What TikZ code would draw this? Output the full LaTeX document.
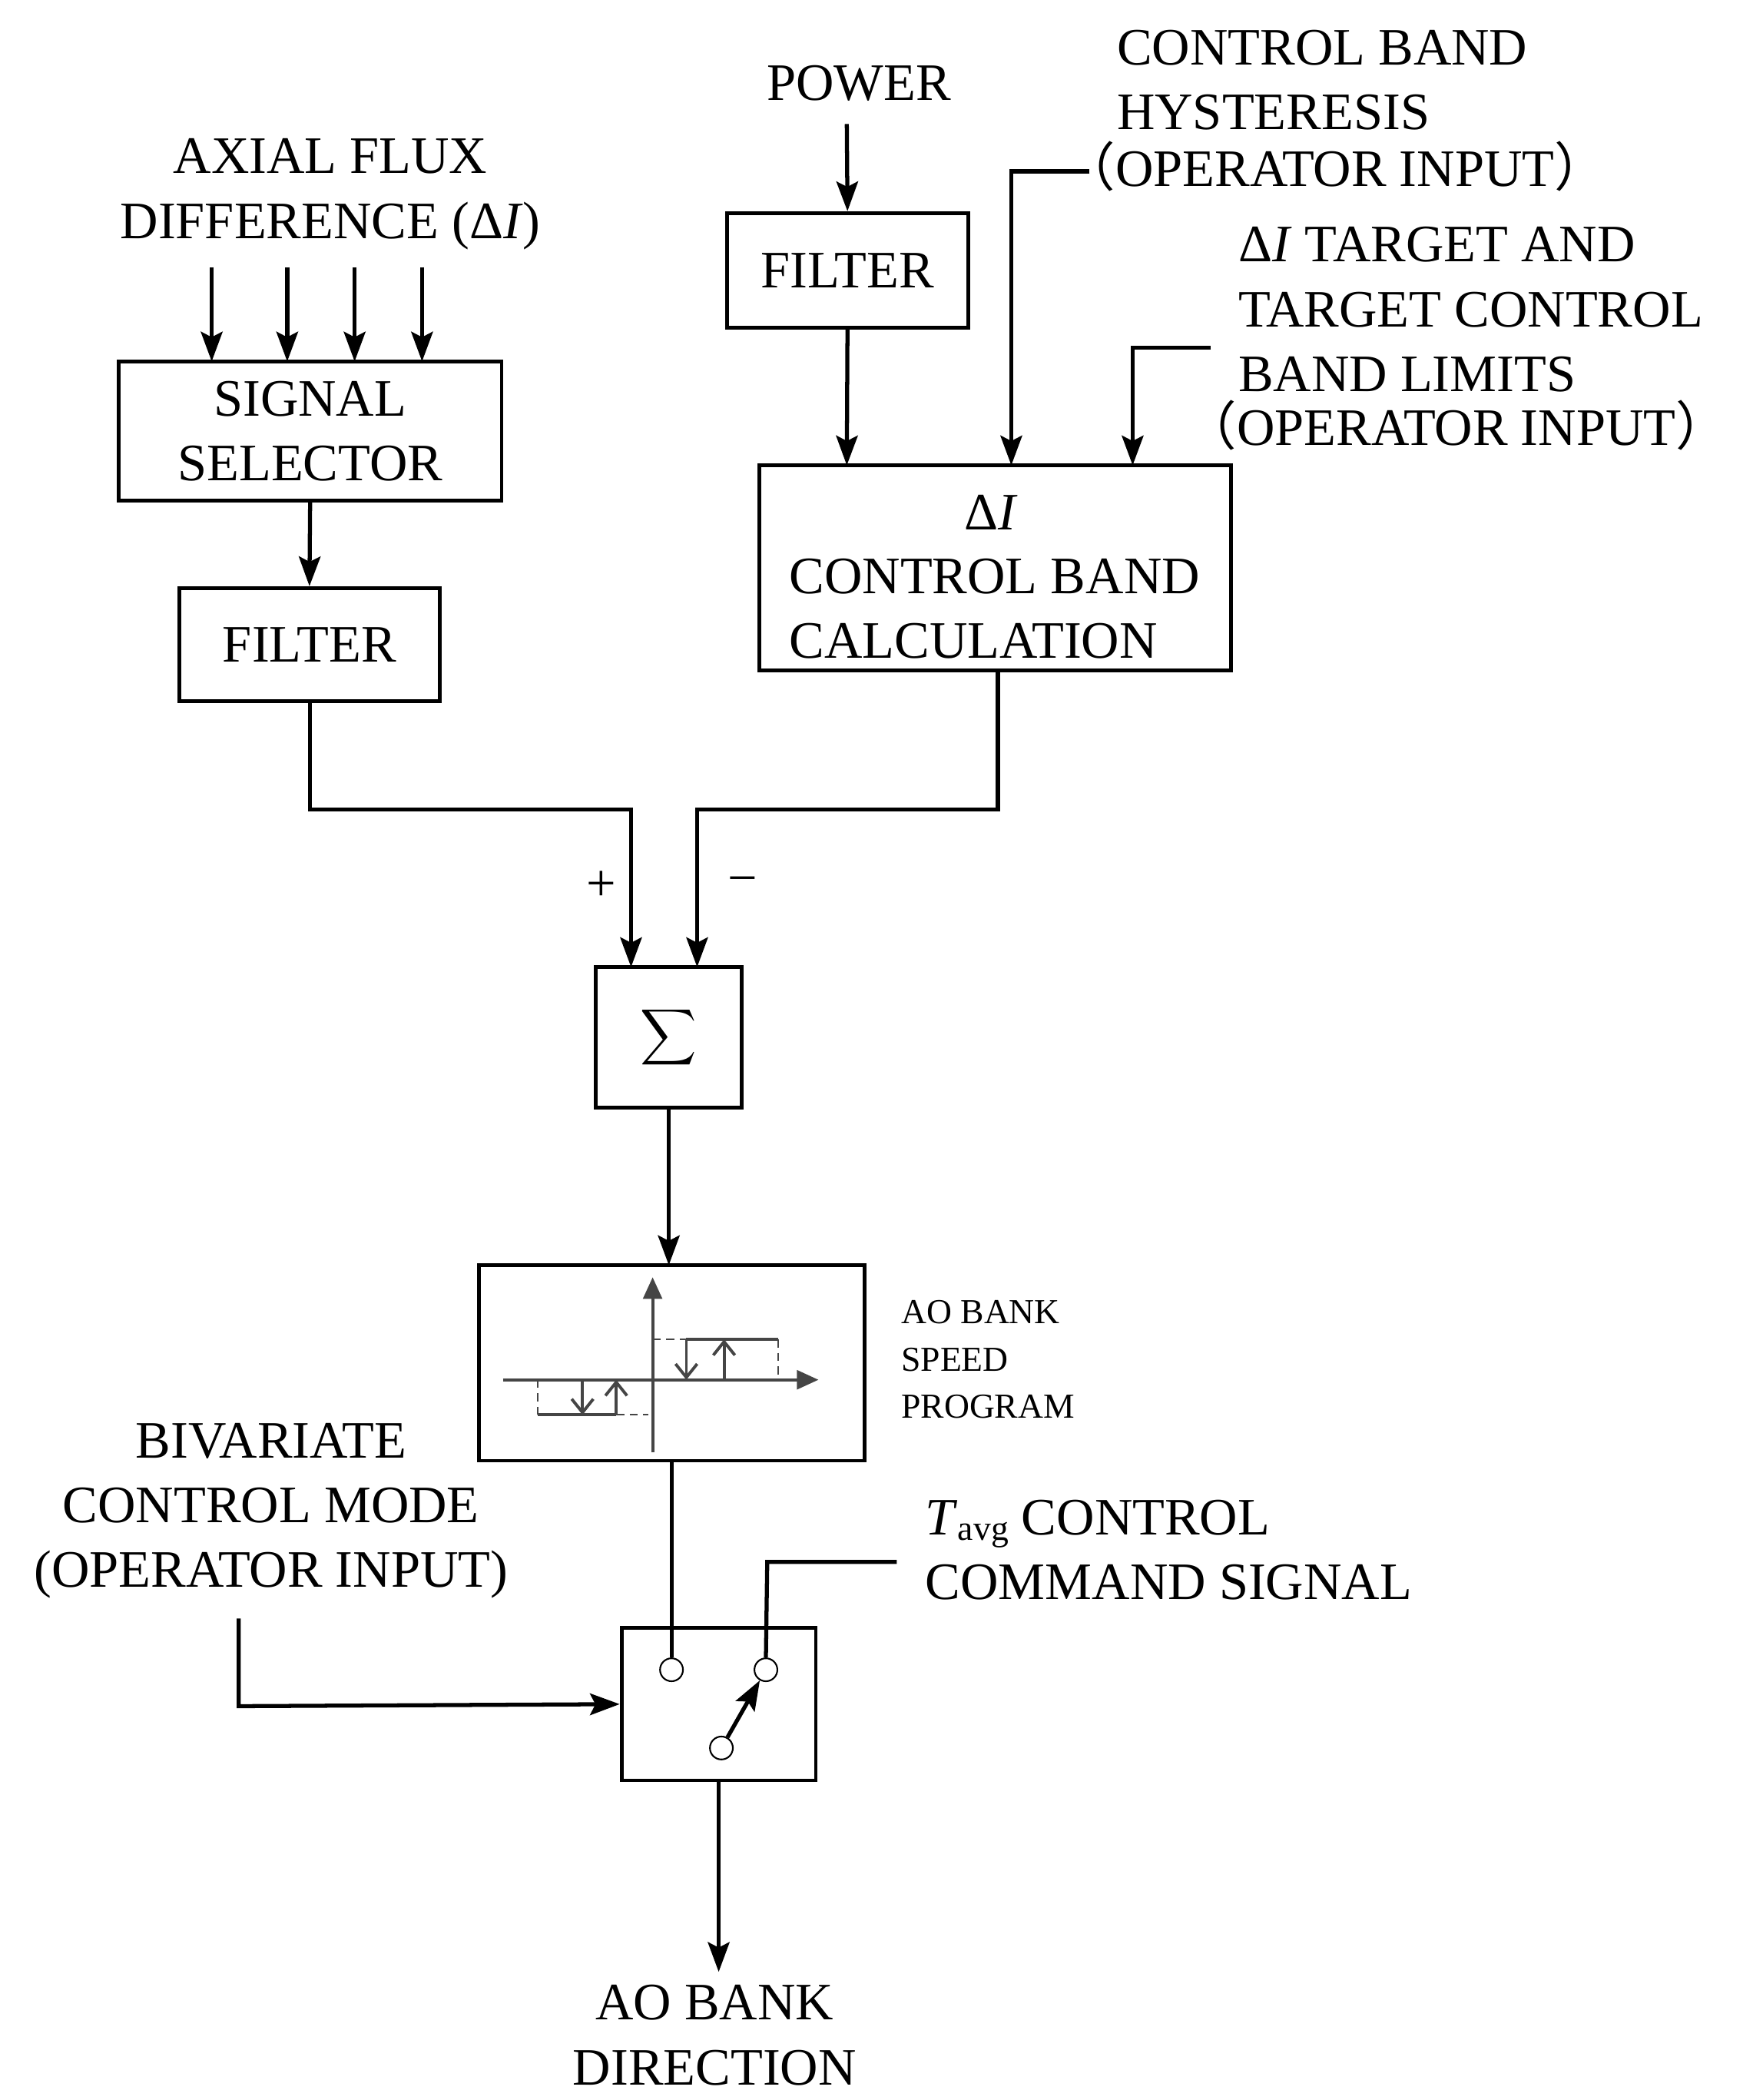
\documentclass[tikz,border=0pt]{standalone}
\usepackage{fontspec}
\usepackage{graphicx}
\setmainfont{Liberation Serif}
\newfontfamily\cjk{Noto Sans CJK SC}
\usetikzlibrary{arrows.meta}
\newcommand{\lp}{{\cjk （}}
\newcommand{\rp}{{\cjk ）}}
\begin{document}
\begin{tikzpicture}[x=0.5pt,y=-0.5pt,
  box/.style={draw,line width=1.4pt,inner sep=0},
  ln/.style={line width=1.5pt},
  ar/.style={line width=1.5pt,-{Stealth[length=11pt,width=8pt,inset=2pt]}},
  txt/.style={font=\fontsize{19.5}{24}\selectfont,inner sep=0},
  stxt/.style={font=\fontsize{13}{17.5}\selectfont,inner sep=0,align=left,anchor=west},
  gr/.style={draw=black!73,line width=1.1pt},
  grd/.style={draw=black!73,line width=0.5pt,dash pattern=on 3pt off 2pt},
  grar/.style={gr,-{Straight Barb[length=5pt,width=8pt]}},
  circ/.style={circle,draw,line width=0.6pt,minimum size=8.5pt,inner sep=0,fill=white}]
\useasboundingbox (0,0) rectangle (1300,1557);
% texts
\node[txt,align=center] (afd) at (245,144) {AXIAL FLUX\\DIFFERENCE (Δ\textit{I})};
\node[txt] (pow) at (637,62) {POWER};
\node[txt,align=left,anchor=north west] (cbh) at (828,22) {CONTROL BAND\\HYSTERESIS\\[-3pt]\hspace*{-20pt}\lp OPERATOR INPUT\rp};
\node[txt,align=left,anchor=north west] (tgt) at (918,168) {Δ\textit{I} TARGET AND\\TARGET CONTROL\\BAND LIMITS\\[-4pt]\hspace*{-20pt}\lp OPERATOR INPUT\rp};
\node[txt,align=center] (biv) at (201,1120) {BIVARIATE\\CONTROL MODE\\(OPERATOR INPUT)};
\node[txt,align=left,anchor=west] (tav) at (686,1149) {\textit{T}\raisebox{-2pt}{\fontsize{13}{13}\selectfont avg} CONTROL\\COMMAND SIGNAL};
\node[txt,align=center] (aod) at (530,1509) {AO BANK\\DIRECTION};
\node[stxt] (aosp) at (668,1008) {AO BANK\\SPEED\\PROGRAM};
\node[txt] (plus) at (446,657) {+};
\node[txt] (minus) at (551,657) {−};
% boxes
\node[box,minimum width=142pt,minimum height=51.5pt,txt,align=center] (sel) at (230,319.5) {SIGNAL\\SELECTOR};
\node[box,minimum width=96.5pt,minimum height=42pt,txt] (f1) at (229.5,478) {FILTER};
\node[box,minimum width=89.5pt,minimum height=42.5pt,txt] (f2) at (628.5,200.5) {FILTER};
\node[box,minimum width=175pt,minimum height=76pt] (calc) at (738,421) {};
\node[txt] at (735,380) {Δ\textit{I}};
\node[txt,anchor=west,align=left] at (585,451.5) {CONTROL BAND\\CALCULATION};
\node[box,minimum width=54pt,minimum height=52pt] (sum) at (496,769) {};
\node at (496,769) {\scalebox{1.45}{\fontsize{19.5}{24}\selectfont$\displaystyle\sum$}};
\node[box,minimum width=143pt,minimum height=72.5pt] (hys) at (498,1010.5) {};
\node[box,minimum width=72pt,minimum height=56.5pt] (sw) at (533,1263.5) {};
% input arrows
\foreach \x in {157,213,263,313} \draw[ar] (\x,198) -- (\x,268);
\draw[ar] (230,371) -- (f1.north);
\draw[ar] (628,92) -- (f2.north);
\draw[ar] (f2.south) -- (628,345);
\coordinate (c1) at (808,127);
\draw[ar] (c1) -- (750,127) -- (750,345);
\coordinate (c2) at (898,258);
\draw[ar] (c2) -- (840,258) -- (840,345);
\draw[ar] (230,520) -- (230,600) -- (468,600) -- (468,717);
\draw[ar] (740,497) -- (740,600) -- (517,600) -- (517,717);
\draw[ar] (496,821) -- (496,938);
% hysteresis graph
\draw[gr,-{Triangle[length=8pt,width=7pt]}] (373,1023) -- (607,1023);
\draw[gr,-{Triangle[length=8pt,width=7pt]}] (484,1077) -- (484,947);
\draw[grd] (484,993) -- (509,993);
\draw[grd] (577,993) -- (577,1023);
\draw[grd] (399,1023) -- (399,1049);
\draw[grd] (457,1049) -- (481,1049);
\draw[gr] (509,993) -- (577,993);
\draw[gr] (399,1049) -- (457,1049);
\draw[grar] (509,993) -- (509,1023);
\draw[grar] (537,1023) -- (537,993);
\draw[grar] (432,1023) -- (432,1049);
\draw[grar] (457,1049) -- (457,1023);
% switch
\node[circ] (s1) at (498,1238) {};
\node[circ] (s2) at (568,1238) {};
\node[circ] (s3) at (535,1296) {};
\draw[ln] (498,1083) -- (s1.north);
\coordinate (c3) at (665,1158);
\draw[ln] (c3) -- (569,1158) -- (s2.north);
\draw[ar] (s3) -- (s2);
\draw[ar] (177,1200) -- (177,1265) -- (sw.west);
\draw[ar] (sw.south) -- (533,1462);
\end{tikzpicture}
\end{document}
